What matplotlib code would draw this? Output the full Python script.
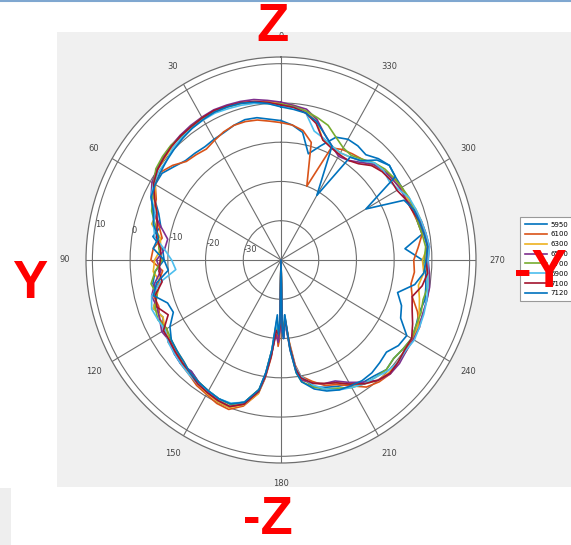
import numpy as np
import matplotlib
matplotlib.use("Agg")
import matplotlib.pyplot as plt
from matplotlib.patches import Rectangle
from matplotlib.lines import Line2D

# ---------------- data ----------------
theta_deg = [0, 5, 10, 15, 20, 25, 30, 35, 40, 45, 50, 55, 60, 65, 70, 75, 80, 85, 90, 95,
             100, 105, 110, 115, 120, 125, 130, 135, 140, 145, 150, 155, 160, 165, 170,
             172, 174, 176, 178, 179, 180, 181, 182, 184, 186, 188,
             190, 195, 200, 205, 210, 215, 220, 225, 230, 235, 240, 245, 250, 255, 260,
             265, 270, 275, 280, 285, 290, 295, 300, 305, 310, 315, 320, 325, 330, 335,
             340, 345, 350, 355]

labels = ["5950", "6100", "6300", "6500", "6700", "6900", "7100", "7120"]

g5950 = [-4.5, -4, -3.2, -3, -3.5, -4.2, -4.5, -4.8, -4.5, -4.2, -3, -1.5, -1.5, -3, -5.5, -7, -5.5, -8.5, -9, -6.5,
         -5.5, -6, -4, -5.5, -4, -4.5, -3, -2.5, -3, -2, -1.5, -1, -1, -2.5, -6.5,
         -11, -17, -25, -20, -22, -40, -22, -20, -26, -18, -12.5,
         -10, -6.5, -5.5, -4.5, -3.5, -2, -1.5, -0.5, -1, -0.5, 0, -0.5, -1, -0.5, -1,
         -1.5, -2.5, -7, -2, -2.5, -2.5, -3, -3, -3, -2.5, -3.5, -5, -4.5, -4.5, -5.5,
         -9, -12, -7, -5.5]
g6100 = [-5, -4.5, -3.8, -3.5, -3.5, -4, -4.8, -5.5, -5, -4.5, -2.5, -1, -1.5, -3.5, -4, -6.5, -8, -6, -5.5, -8.5,
         -7, -5, -5.5, -4.5, -5, -3.5, -3.5, -2.5, -2, -1, -0.5, 0.3, 0.5, -1.5, -5.5,
         -9.5, -15, -23, -18, -20, -40, -24, -22, -24, -19, -13,
         -10, -8, -6, -5, -3, -0.5, 0.5, 1, 0.5, 0.5, 0, 0.5, -1.5, -4, -5,
         -4.5, -4.8, -3.5, -2, -2.5, -3, -3.5, -3, -3.5, -4.5, -5.5, -6.5, -7, -7.5, -8.5,
         -20, -9, -6.5, -5.5]
g6300 = [0, 0.5, 1, 1.2, 1.5, 1.8, 1.5, 1.2, 1.5, 0.8, 0.3, 0, -1.5, -3, -5, -4.5, -7.5, -8, -6.5, -6,
         -7.5, -6, -4, -5.5, -4.5, -4, -4, -3.5, -2.5, -1.5, -0.8, -0.2, 0, -1.8, -5.5,
         -10, -16, -22, -21, -24, -40, -23, -21, -25, -18.5, -12,
         -9, -7.5, -6.5, -5.5, -3.5, -1.5, 0, 0.5, 0.5, 0, 0.5, 0, -1, -2, -3,
         -2, -2.5, -1, -1, -1.5, -2, -3, -3.5, -4, -4.5, -6, -7, -8, -8.5, -8,
         -7.5, -3.5, -1.5, -0.5]
g6500 = [0.2, 0.8, 1.5, 1.8, 2, 2.2, 2, 1.8, 1.5, 1.2, 0.8, 0.2, -0.5, -2, -4, -7, -9.5, -9, -7, -8,
         -6, -4.5, -5, -4.5, -3.5, -4, -3, -2.5, -3, -2, -1, -0.5, -0.3, -2, -6,
         -10, -16, -21, -19, -22, -40, -22, -20, -24, -17, -11.5,
         -9, -7.5, -6.5, -6, -4, -2, 0, 1, 1, 0.5, 0.5, 0.5, 0, 0, 0,
         -0.5, -1, -0.5, -1, -1.5, -2.5, -3.5, -3.5, -4, -4.5, -5.5, -7.5, -9, -9.5, -8,
         -6, -3, -1, -0.5]
g6700 = [-0.3, 0, 0.8, 1.3, 1.5, 1.5, 1.8, 1.5, 1, 1.3, 1, 0.5, -1, -2.5, -3.5, -5.5, -7, -7.5, -8.5, -6.5,
         -5, -6, -4.5, -4, -5, -4.5, -4, -3, -2.5, -2, -1.5, -1, -0.8, -2.5, -6.5,
         -10.5, -17, -23, -22, -25, -40, -25, -22, -25, -17.5, -11,
         -8.5, -6.5, -5, -4, -2.5, -1.5, -1, -0.5, -1, -0.5, 0, -0.5, -0.5, -1, -0.5,
         -1, -2, -1.5, -2, -2.5, -2.5, -2.5, -3, -3.5, -4, -5, -6.5, -7.5, -7, -5.5,
         -3.5, -2.5, -1.5, -0.8]
g6900 = [-0.8, 0, 0.5, 0.8, 1, 1.3, 1.2, 1.0, 0.8, 0.5, -0.5, -0.5, -1, -2, -4.5, -5, -6, -9, -11, -12,
         -7.5, -4.5, -3.5, -4, -4.5, -3.5, -3, -2.5, -2, -1.5, -1.5, -1, -1.2, -2.5, -6,
         -10, -16.5, -24, -22, -24, -40, -24, -21, -24, -18, -12.5,
         -10, -7, -5, -3.5, -2.5, -1.5, -1, 0, 0.5, 0.3, 0.8, 0.5, 0.3, 0, -0.5,
         -1, -1, -0.5, -1, -1.5, -2, -2.5, -4, -5, -4.5, -5, -7, -8, -8.5, -8,
         -7, -6, -2, -1]
g7100 = [-0.5, 0.3, 1, 1.5, 1.7, 2, 1.8, 1.5, 1.3, 1, 0.5, 0, -1, -3, -5, -6, -6.5, -8, -8, -7.5,
         -8, -5.5, -5, -7, -4, -4, -3.5, -3, -2.5, -1.5, -1, -0.5, -0.3, -2, -6,
         -10, -15.5, -22, -21, -23, -40, -23, -21, -25, -18, -12,
         -9.5, -7.5, -6.5, -5.5, -3.5, -1.5, 0, 0.8, 0.5, 0, 0, -1.5, -3, -4, -2,
         -1, -1.5, -1, -1.5, -2, -3, -3.5, -4.5, -4.5, -5, -6, -8, -9, -9, -8.5,
         -7.5, -4, -2, -1]
g7120 = [-1, 0, 0.8, 1.3, 1.5, 1.6, 1.3, 1, 0.5, 0, -0.5, -1, -1.5, -2, -4, -5, -7, -6, -9, -10,
         -6.5, -5, -8, -8.5, -6, -4.5, -4, -3.5, -2.5, -2, -1.5, -1, -1, -2.5, -6.5,
         -11, -17, -26, -21, -24, -40, -23, -20, -26, -17, -11,
         -8.5, -6, -4.5, -3.5, -3, -2.5, -2.5, -3, -3.5, -2, -1.5, -5, -6, -8, -4,
         -2, -1.5, -1, -1.5, -2, -2.5, -4, -14, -3, -2.5, -4, -7, -8, -21, -8,
         -6, -3.5, -2, -1.5]

series = [g5950, g6100, g6300, g6500, g6700, g6900, g7100, g7120]
colors = ["#0072BD", "#D95319", "#EDB120", "#7E2F8E", "#77AC30", "#4DBEEE", "#A2142F", "#0072BD"]

theta_ticks = list(range(0, 360, 30))
r_ticks = [-30, -20, -10, 0, 10]

# ---------------- figure ----------------
W, H = 571, 545
fig = plt.figure(figsize=(W / 100, H / 100), dpi=100)
fig.patch.set_facecolor("white")

# grey panel behind the plot
fig.add_artist(Rectangle((57 / W, 1 - 487 / H), (W - 57) / W, (487 - 32) / H,
                         transform=fig.transFigure, facecolor="#f0f0f0", edgecolor="none", zorder=-5))
fig.add_artist(Rectangle((0, 0), 11 / W, (545 - 488) / H,
                         transform=fig.transFigure, facecolor="#eeeeee", edgecolor="none", zorder=-5))
fig.add_artist(Line2D([0, 1], [1 - 1 / H, 1 - 1 / H], transform=fig.transFigure,
                      color="#7fa7d0", lw=1.5))

cx, cy = 281, 260
rx, ry = 195, 203
ax = fig.add_axes([(cx - rx) / W, (H - cy - ry) / H, 2 * rx / W, 2 * ry / H], projection="polar")
ax.set_aspect("auto")
ax.set_facecolor("white")
ax.set_theta_zero_location("N")
ax.set_theta_direction(1)

th = np.deg2rad(np.array(theta_deg + [360]))
for vals, c, lab in zip(series, colors, labels):
    v = np.array(vals + [vals[0]])
    ax.plot(th, v, color=c, lw=1.2, label=lab)

ax.set_rlim(-40, 11.7)
ax.set_thetagrids(theta_ticks, [str(t) for t in theta_ticks], fontsize=6, color="#444444")
ax.set_rgrids(r_ticks, [str(r) for r in r_ticks], angle=81, fontsize=6, color="#444444")
ax.tick_params(axis="x", pad=4.5)
ax.grid(True, color="#6e6e6e", lw=0.8)
ax.spines["polar"].set_color("#6e6e6e")
ax.spines["polar"].set_linewidth(0.9)

leg = fig.legend(loc="upper left", bbox_to_anchor=(517 / W, 1 - 214 / H), fontsize=5,
                 handlelength=3.2, labelspacing=0.55, borderpad=0.6, handletextpad=0.5,
                 frameon=True, fancybox=False, edgecolor="#999999", framealpha=1)
leg.get_frame().set_linewidth(0.8)
for l in leg.get_lines():
    l.set_linewidth(1.2)

red = dict(color="#ff0000", fontsize=38, fontweight="bold", family="Liberation Sans",
           ha="center", va="center", zorder=20)
fig.text(273 / W, 1 - 27 / H, "Z", **red)
fig.text(30 / W, 1 - 284 / H, "Y", **red)
fig.text(540 / W, 1 - 273 / H, "-Y", **red)
fig.text(268 / W, 1 - 520 / H, "-Z", **red)

fig.savefig("out.png", dpi=100)
